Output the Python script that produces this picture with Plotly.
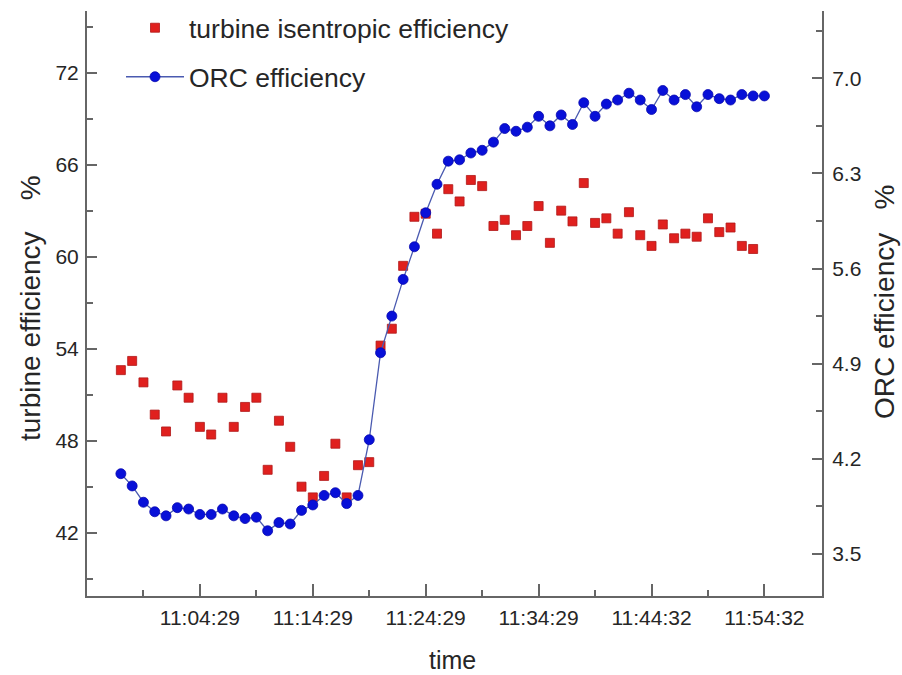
import plotly.graph_objects as go

# Sample number (one reading per minute) and the time stamps shown on the axis
sample_no = list(range(58))
tick_pos = [7, 17, 27, 37, 47, 57]
tick_text = ["11:04:29", "11:14:29", "11:24:29", "11:34:29", "11:44:32", "11:54:32"]

# Turbine isentropic efficiency, % (left axis); no reading for the last sample
turbine_eff = [
    52.6, 53.2, 51.8, 49.7, 48.6, 51.6, 50.8, 48.9, 48.4, 50.8,
    48.9, 50.2, 50.8, 46.1, 49.3, 47.6, 45.0, 44.3, 45.7, 47.8,
    44.3, 46.4, 46.6, 54.2, 55.3, 59.4, 62.6, 62.8, 61.5, 64.4,
    63.6, 65.0, 64.6, 62.0, 62.4, 61.4, 62.0, 63.3, 60.9, 63.0,
    62.3, 64.8, 62.2, 62.5, 61.5, 62.9, 61.4, 60.7, 62.1, 61.2,
    61.5, 61.3, 62.5, 61.6, 61.9, 60.7, 60.5, None,
]

# ORC cycle efficiency, % (right axis)
orc_eff = [
    4.09, 4.00, 3.88, 3.81, 3.78, 3.84, 3.83, 3.79, 3.79, 3.83,
    3.78, 3.76, 3.77, 3.67, 3.73, 3.72, 3.82, 3.86, 3.93, 3.95,
    3.87, 3.93, 4.34, 4.98, 5.25, 5.52, 5.76, 6.01, 6.22, 6.39,
    6.40, 6.45, 6.47, 6.53, 6.63, 6.61, 6.64, 6.72, 6.65, 6.73,
    6.66, 6.82, 6.72, 6.81, 6.84, 6.89, 6.84, 6.77, 6.91, 6.84,
    6.88, 6.79, 6.88, 6.85, 6.84, 6.88, 6.87, 6.87,
]

FONT = "Arial, Liberation Sans, sans-serif"
AXIS_COLOR = "#666666"
TEXT_COLOR = "#262626"
NB = "\u00a0"

fig = go.Figure()

fig.add_trace(go.Scatter(
    x=sample_no, y=turbine_eff, mode="markers",
    name="turbine isentropic efficiency",
    marker=dict(symbol="square", size=9, color="#e0201e",
                line=dict(width=0.8, color="#b01818")),
    legend="legend", yaxis="y",
))

fig.add_trace(go.Scatter(
    x=sample_no, y=orc_eff, mode="lines+markers",
    name="ORC efficiency",
    line=dict(color="#4a5ab0", width=1.3),
    marker=dict(symbol="circle", size=10, color="#0810d8",
                line=dict(width=0.8, color="#0808b0")),
    legend="legend2", yaxis="y2",
))

axis_common = dict(
    showline=True, linecolor=AXIS_COLOR, linewidth=2,
    ticks="inside", tickcolor=AXIS_COLOR, tickwidth=1.5,
    showgrid=False, zeroline=False,
    tickfont=dict(family=FONT, size=21, color=TEXT_COLOR),
)

def px_x(px):
    return (px - 87) / 735

def px_y(py):
    return (596 - py) / 585

fig.update_layout(
    width=902, height=675,
    margin=dict(l=87, r=80, t=11, b=79, autoexpand=False),
    paper_bgcolor="white", plot_bgcolor="white",
    showlegend=True,
    xaxis=dict(
        range=[-3, 62.1],
        tickmode="array", tickvals=tick_pos, ticktext=tick_text,
        ticklen=12, ticklabelstandoff=2,
        minor=dict(ticks="inside", ticklen=6, tickcolor=AXIS_COLOR, tickwidth=1.5,
                   tickmode="array", tickvals=[2, 12, 22, 32, 42, 52]),
        **axis_common,
    ),
    yaxis=dict(
        range=[37.87, 76.02],
        tickmode="linear", tick0=42, dtick=6,
        ticklen=10, ticklabelstandoff=2,
        minor=dict(ticks="inside", ticklen=6, tickcolor=AXIS_COLOR, tickwidth=1.5,
                   tickmode="linear", tick0=39, dtick=6),
        **axis_common,
    ),
    yaxis2=dict(
        range=[3.19, 7.495],
        overlaying="y", side="right", anchor="x",
        tickmode="linear", tick0=3.5, dtick=0.7, tickformat=".1f",
        ticklen=10, ticklabelstandoff=4,
        minor=dict(ticks="inside", ticklen=6, tickcolor=AXIS_COLOR, tickwidth=1.5,
                   tickmode="linear", tick0=3.85, dtick=0.7),
        **axis_common,
    ),
    legend=dict(
        x=px_x(121), y=px_y(28), xanchor="left", yanchor="middle",
        bgcolor="rgba(0,0,0,0)", borderwidth=0, itemwidth=58,
        font=dict(family=FONT, size=26.5, color=TEXT_COLOR),
    ),
    legend2=dict(
        x=px_x(121), y=px_y(77), xanchor="left", yanchor="middle",
        bgcolor="rgba(0,0,0,0)", borderwidth=0, itemwidth=58,
        font=dict(family=FONT, size=26.5, color=TEXT_COLOR),
    ),
    annotations=[
        dict(text="time", xref="paper", yref="paper",
             x=px_x(452), y=px_y(660),
             xanchor="center", yanchor="middle", showarrow=False,
             font=dict(family=FONT, size=25, color=TEXT_COLOR)),
        dict(text="turbine efficiency" + NB * 4 + "%", xref="paper", yref="paper",
             x=px_x(30), y=px_y(308), textangle=-90,
             xanchor="center", yanchor="middle", showarrow=False,
             font=dict(family=FONT, size=28, color=TEXT_COLOR)),
        dict(text="ORC efficiency" + NB * 3 + "%", xref="paper", yref="paper",
             x=px_x(884), y=px_y(302), textangle=-90,
             xanchor="center", yanchor="middle", showarrow=False,
             font=dict(family=FONT, size=28, color=TEXT_COLOR)),
    ],
)

fig.write_html("out.html")
